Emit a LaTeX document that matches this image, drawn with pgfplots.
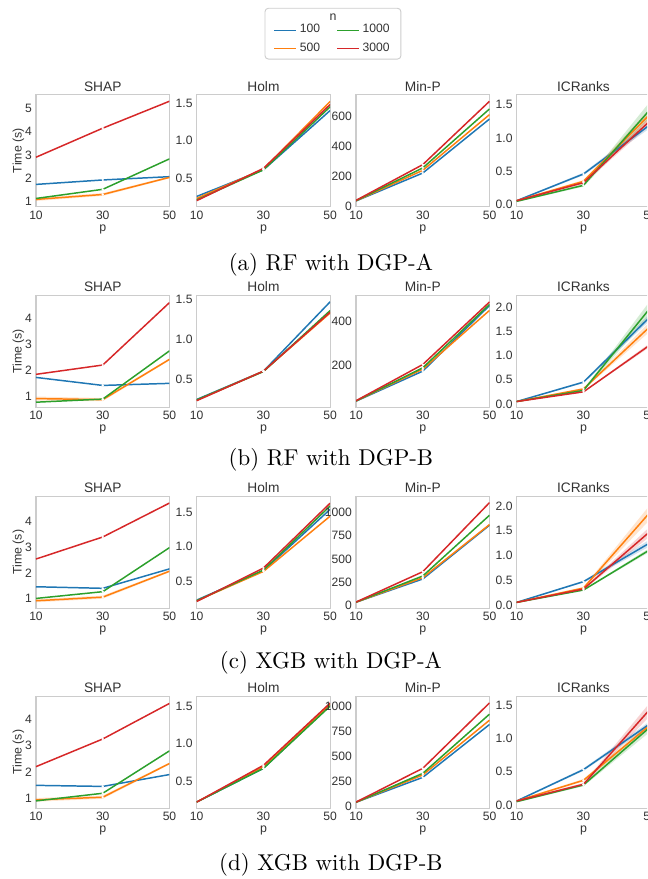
\documentclass[border=0pt]{standalone}
\usepackage{fontspec}
\newfontfamily\arial{Liberation Sans}
\usepackage{pgfplots}
\pgfplotsset{compat=1.18}

\definecolor{c1}{HTML}{1F77B4}
\definecolor{c2}{HTML}{FF7F0E}
\definecolor{c3}{HTML}{2CA02C}
\definecolor{c4}{HTML}{D62728}
\definecolor{spine}{HTML}{CCCCCC}
\definecolor{txt}{HTML}{333333}

\newcommand{\tickfont}{\arial\fontsize{5.3}{6}\selectfont}
\newcommand{\labfont}{\arial\fontsize{5.4}{6.5}\selectfont}
\newcommand{\titfont}{\arial\fontsize{6}{7}\selectfont}

% the four n-series of one panel: 100, 500, 1000, 3000
\newcommand{\lines}[4]{%
  \addplot[c1] coordinates {#1};
  \addplot[c2] coordinates {#2};
  \addplot[c3] coordinates {#3};
  \addplot[c4] coordinates {#4};
}
% confidence band (lower points, then upper points backwards)
\newcommand{\band}[2]{%
  \addplot[fill=#1, fill opacity=0.2, draw=none, mark=none, forget plot] coordinates {#2};
}

\pgfplotsset{
  every axis title shift=0pt,
  panel/.style={
    scale only axis, width=58.34pt, height=48.94pt,
    anchor=south west,
    xmin=10, xmax=50, xtick={10,30,50},
    axis line style={spine, line width=0.45pt},
    major tick length=0pt, tick style={draw=none},
    ticklabel style={font=\tickfont, text=txt},
    xticklabel style={inner sep=1.6pt},
    yticklabel style={inner sep=1.6pt},
    /pgf/number format/assume math mode=true,
    /pgf/number format/1000 sep={},
    title style={font=\titfont, text=txt, inner sep=1.3pt, at={(0.5,1)}, anchor=south},
    xlabel={p},
    xlabel style={font=\labfont, text=txt, at={(axis description cs:0.5,-0.2)}, anchor=center},
    every axis plot/.append style={line width=0.65pt, mark=*, mark indices={2},
      mark size=0.45pt, mark options={fill=white, draw=white, line width=0.1pt}},
  },
  shap/.style={title={SHAP}, ytick={1,2,3,4,5}, ylabel={Time (s)},
    ylabel style={font=\labfont, text=txt, at={(axis description cs:-0.132,0.5)}, anchor=center}},
  holm/.style={title={Holm}, ytick={0.5,1.0,1.5},
    yticklabel style={/pgf/number format/.cd, fixed, fixed zerofill, precision=1}},
  minp/.style={title={Min-P}},
  icr/.style={title={ICRanks}, ytick={0,0.5,1.0,1.5,2.0},
    yticklabel style={/pgf/number format/.cd, fixed, fixed zerofill, precision=1}},
}

\begin{document}
\begin{tikzpicture}
\useasboundingbox (0,0) rectangle (282.74pt,384.12pt);
\clip (0,0) rectangle (282.74pt,384.12pt);

% legend frame and title
\draw[spine, line width=0.4pt, rounded corners=1.5pt] (115.8pt,358.3pt) rectangle (175.2pt,380.5pt);
\node[font=\labfont, text=txt] at (145.5pt,376.7pt) {n};

% ---------- (a) RF with DGP-A ----------
\begin{axis}[panel, shap, at={(15.73pt,293.8pt)}, ymin=0.79, ymax=5.57,
  legend columns=2, transpose legend, legend cell align=left,
  legend style={at={(axis description cs:2.2247,1.4929)}, anchor=center, draw=none, fill=none,
    font=\tickfont, text=txt, nodes={inner sep=1.2pt}, row sep=0.3pt,
    /tikz/every even column/.append style={column sep=6pt}},
  legend image code/.code={\draw[#1, mark=none] (0pt,0pt) -- (9.6pt,0pt);}]
  \band{c2}{(10,1.03)(30,1.25)(50,2.00)(50,2.08)(30,1.37)(10,1.17)}
  \lines{(10,1.74)(30,1.93)(50,2.07)}{(10,1.10)(30,1.31)(50,2.04)}
        {(10,1.14)(30,1.53)(50,2.83)}{(10,2.90)(30,4.14)(50,5.29)}
  \legend{100,500,1000,3000}
\end{axis}
\begin{axis}[panel, holm, at={(85.96pt,293.8pt)}, ymin=0.12, ymax=1.61]
  \lines{(10,0.256)(30,0.61)(50,1.40)}{(10,0.23)(30,0.62)(50,1.52)}
        {(10,0.21)(30,0.61)(50,1.45)}{(10,0.20)(30,0.63)(50,1.48)}
\end{axis}
\begin{axis}[panel, minp, at={(155.57pt,293.8pt)}, ymin=-2, ymax=744, ytick={0,200,400,600}]
  \lines{(10,36)(30,222)(50,582)}{(10,37)(30,240)(50,611)}
        {(10,38)(30,256)(50,649)}{(10,40)(30,278)(50,700)}
\end{axis}
\begin{axis}[panel, icr, at={(225.80pt,293.8pt)}, ymin=-0.03, ymax=1.65]
  \band{c1}{(10,0.05)(30,0.44)(50,1.15)(50,1.25)(30,0.48)(10,0.07)}
  \band{c2}{(10,0.05)(30,0.33)(50,1.28)(50,1.44)(30,0.37)(10,0.07)}
  \band{c3}{(10,0.04)(30,0.27)(50,1.31)(50,1.55)(30,0.31)(10,0.06)}
  \band{c4}{(10,0.05)(30,0.31)(50,1.20)(50,1.32)(30,0.35)(10,0.07)}
  \lines{(10,0.06)(30,0.46)(50,1.20)}{(10,0.06)(30,0.35)(50,1.36)}
        {(10,0.05)(30,0.29)(50,1.43)}{(10,0.06)(30,0.33)(50,1.26)}
\end{axis}
\node at (144.6pt,268.3pt) {(a) RF with DGP-A};

% ---------- (b) RF with DGP-B ----------
\begin{axis}[panel, shap, at={(15.73pt,206.1pt)}, ymin=0.56, ymax=4.90]
  \band{c2}{(10,0.82)(30,0.80)(50,2.38)(50,2.46)(30,0.92)(10,0.98)}
  \lines{(10,1.72)(30,1.41)(50,1.49)}{(10,0.90)(30,0.86)(50,2.42)}
        {(10,0.76)(30,0.88)(50,2.75)}{(10,1.84)(30,2.20)(50,4.62)}
\end{axis}
\begin{axis}[panel, holm, at={(85.96pt,206.1pt)}, ymin=0.146, ymax=1.55]
  \lines{(10,0.245)(30,0.60)(50,1.47)}{(10,0.235)(30,0.60)(50,1.33)}
        {(10,0.24)(30,0.595)(50,1.36)}{(10,0.23)(30,0.60)(50,1.34)}
\end{axis}
\begin{axis}[panel, minp, at={(155.57pt,206.1pt)}, ymin=9, ymax=516, ytick={0,200,400,600}]
  \lines{(10,37)(30,173)(50,470)}{(10,38)(30,182)(50,448)}
        {(10,38)(30,188)(50,475)}{(10,39)(30,203)(50,486)}
\end{axis}
\begin{axis}[panel, icr, at={(225.80pt,206.1pt)}, ymin=-0.07, ymax=2.24]
  \band{c1}{(10,0.04)(30,0.43)(50,1.73)(50,1.87)(30,0.47)(10,0.06)}
  \band{c2}{(10,0.04)(30,0.29)(50,1.50)(50,1.70)(30,0.33)(10,0.06)}
  \band{c3}{(10,0.04)(30,0.26)(50,1.83)(50,2.13)(30,0.30)(10,0.06)}
  \band{c4}{(10,0.04)(30,0.24)(50,1.18)(50,1.26)(30,0.26)(10,0.06)}
  \lines{(10,0.05)(30,0.45)(50,1.80)}{(10,0.05)(30,0.31)(50,1.60)}
        {(10,0.05)(30,0.28)(50,1.98)}{(10,0.05)(30,0.25)(50,1.22)}
\end{axis}
\node at (144.6pt,183.1pt) {(b) RF with DGP-B};

% ---------- (c) XGB with DGP-A ----------
\begin{axis}[panel, shap, at={(15.73pt,118.3pt)}, ymin=0.63, ymax=4.95]
  \band{c2}{(10,0.86)(30,1.00)(50,2.02)(50,2.10)(30,1.12)(10,0.98)}
  \lines{(10,1.46)(30,1.40)(50,2.15)}{(10,0.92)(30,1.06)(50,2.06)}
        {(10,1.01)(30,1.27)(50,2.97)}{(10,2.53)(30,3.38)(50,4.69)}
\end{axis}
\begin{axis}[panel, holm, at={(85.96pt,118.3pt)}, ymin=0.10, ymax=1.74]
  \lines{(10,0.22)(30,0.65)(50,1.55)}{(10,0.21)(30,0.64)(50,1.45)}
        {(10,0.21)(30,0.66)(50,1.60)}{(10,0.20)(30,0.69)(50,1.64)}
\end{axis}
\begin{axis}[panel, minp, at={(155.57pt,118.3pt)}, ymin=-29, ymax=1175, ytick={0,250,500,750,1000}]
  \lines{(10,36)(30,286)(50,864)}{(10,36)(30,300)(50,871)}
        {(10,37)(30,318)(50,971)}{(10,38)(30,364)(50,1107)}
\end{axis}
\begin{axis}[panel, icr, at={(225.80pt,118.3pt)}, ymin=-0.07, ymax=2.2]
  \band{c1}{(10,0.04)(30,0.45)(50,1.19)(50,1.33)(30,0.49)(10,0.06)}
  \band{c2}{(10,0.04)(30,0.32)(50,1.73)(50,2.03)(30,0.36)(10,0.06)}
  \band{c3}{(10,0.04)(30,0.29)(50,1.08)(50,1.16)(30,0.31)(10,0.06)}
  \band{c4}{(10,0.04)(30,0.30)(50,1.39)(50,1.59)(30,0.34)(10,0.06)}
  \lines{(10,0.05)(30,0.47)(50,1.26)}{(10,0.05)(30,0.34)(50,1.88)}
        {(10,0.05)(30,0.30)(50,1.12)}{(10,0.05)(30,0.32)(50,1.49)}
\end{axis}
\node at (144.6pt,94.4pt) {(c) XGB with DGP-A};

% ---------- (d) XGB with DGP-B ----------
\begin{axis}[panel, shap, at={(15.73pt,30.9pt)}, ymin=0.62, ymax=4.87]
  \band{c2}{(10,0.87)(30,0.98)(50,2.28)(50,2.36)(30,1.10)(10,1.01)}
  \lines{(10,1.49)(30,1.45)(50,1.90)}{(10,0.94)(30,1.04)(50,2.32)}
        {(10,0.90)(30,1.19)(50,2.80)}{(10,2.20)(30,3.25)(50,4.60)}
\end{axis}
\begin{axis}[panel, holm, at={(85.96pt,30.9pt)}, ymin=0.137, ymax=1.63]
  \lines{(10,0.22)(30,0.67)(50,1.51)}{(10,0.22)(30,0.69)(50,1.52)}
        {(10,0.22)(30,0.67)(50,1.50)}{(10,0.22)(30,0.71)(50,1.54)}
\end{axis}
\begin{axis}[panel, minp, at={(155.57pt,30.9pt)}, ymin=-17, ymax=1099, ytick={0,250,500,750,1000}]
  \lines{(10,43)(30,291)(50,818)}{(10,43)(30,315)(50,861)}
        {(10,43)(30,331)(50,921)}{(10,45)(30,381)(50,1033)}
\end{axis}
\begin{axis}[panel, icr, at={(225.80pt,30.9pt)}, ymin=-0.05, ymax=1.63]
  \band{c1}{(10,0.05)(30,0.51)(50,1.18)(50,1.26)(30,0.55)(10,0.07)}
  \band{c2}{(10,0.05)(30,0.35)(50,1.15)(50,1.25)(30,0.39)(10,0.07)}
  \band{c3}{(10,0.04)(30,0.28)(50,1.10)(50,1.24)(30,0.32)(10,0.06)}
  \band{c4}{(10,0.05)(30,0.29)(50,1.34)(50,1.54)(30,0.33)(10,0.07)}
  \lines{(10,0.06)(30,0.53)(50,1.22)}{(10,0.06)(30,0.37)(50,1.20)}
        {(10,0.05)(30,0.30)(50,1.17)}{(10,0.06)(30,0.31)(50,1.44)}
\end{axis}
\node at (144.6pt,6.1pt) {(d) XGB with DGP-B};
\end{tikzpicture}
\end{document}
